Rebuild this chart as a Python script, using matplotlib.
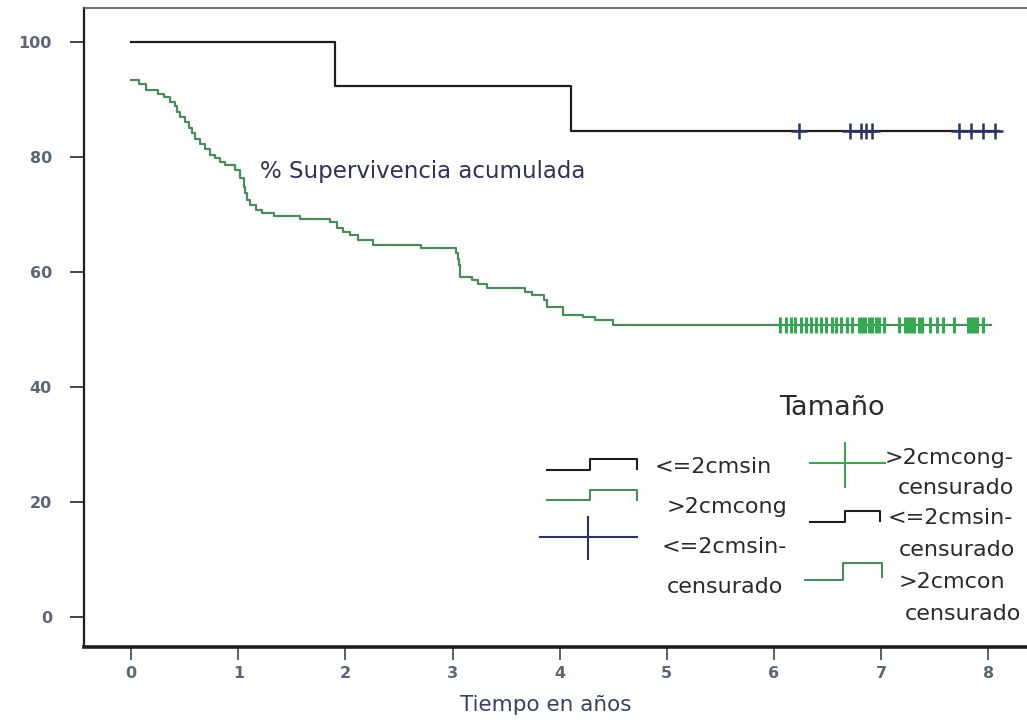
import matplotlib
matplotlib.use('Agg')
import matplotlib.pyplot as plt
from matplotlib.lines import Line2D

# Kaplan-Meier: <=2cm sin ganglios
small_times = [1.90, 4.11]
small_surv = [100.0, 92.3, 84.6]
small_end = 8.10
small_cens = [6.23, 6.71, 6.81, 6.86, 6.92, 7.73, 7.84, 7.95, 8.06]

# Kaplan-Meier: >2cm con ganglios
large_times = [0.07, 0.14, 0.25, 0.31, 0.36, 0.41, 0.43, 0.46, 0.50, 0.54,
               0.57, 0.60, 0.64, 0.69, 0.74, 0.78, 0.83, 0.88, 0.97, 1.02,
               1.05, 1.06, 1.08, 1.11, 1.17, 1.22, 1.33, 1.58, 1.86, 1.92,
               1.98, 2.04, 2.12, 2.26, 2.71, 3.03, 3.05, 3.06, 3.07, 3.18,
               3.24, 3.32, 3.68, 3.74, 3.85, 3.88, 4.03, 4.22, 4.33, 4.50]
large_surv = [93.3, 92.6, 91.6, 91.0, 90.4, 89.6, 88.8, 87.9, 86.9, 86.0, 85.0,
              84.1, 83.2, 82.2, 81.3, 80.4, 79.9, 79.2, 78.6, 77.7, 76.3,
              74.8, 73.7, 72.5, 71.7, 70.8, 70.3, 69.7, 69.3, 68.7, 67.6,
              67.0, 66.4, 65.6, 64.7, 64.1, 63.3, 62.3, 61.2, 59.2, 58.6,
              58.0, 57.2, 56.6, 56.0, 55.1, 54.0, 52.5, 52.2, 51.6, 50.7]
large_end = 8.03
large_cens = [6.06, 6.11, 6.16, 6.20, 6.25, 6.30, 6.35, 6.39, 6.44, 6.49,
              6.54, 6.58, 6.63, 6.68, 6.73, 6.79, 6.82, 6.85, 6.89, 6.92,
              6.95, 6.98, 7.03, 7.17, 7.22, 7.25, 7.28, 7.31, 7.35, 7.38,
              7.46, 7.52, 7.58, 7.68, 7.81, 7.84, 7.87, 7.90, 7.95]

x_ticks = [0, 1, 2, 3, 4, 5, 6, 7, 8]
y_ticks = [0, 20, 40, 60, 80, 100]

BLACK = '#1e1e1e'
GREEN = '#4a8c5c'
GREEN_MK = '#35a852'
NAVY = '#2c3263'
TICK_C = '#5c6677'

narrow = ['Liberation Sans Narrow', 'DejaVu Sans']
sans = ['DejaVu Sans']

W, H = 1027, 720
fig = plt.figure(figsize=(W / 100, H / 100), dpi=100)
ax = fig.add_axes([84 / W, 1 - 647 / H, 962 / W, 639 / H])


def km(times, surv, end):
    xs = [0] + list(times) + [end]
    ys = list(surv) + [surv[-1]]
    return xs, ys


xs, ys = km(small_times, small_surv, small_end)
ax.step(xs, ys, where='post', color=BLACK, lw=1.6)
ax.plot(small_cens, [small_surv[-1]] * len(small_cens), ls='none',
        marker='+', ms=11, mew=1.8, color=NAVY)

xs, ys = km(large_times, large_surv, large_end)
ax.step(xs, ys, where='post', color=GREEN, lw=1.6)
ax.plot(large_cens, [large_surv[-1]] * len(large_cens), ls='none',
        marker='|', ms=11, mew=2.2, color=GREEN_MK)

ax.set_xlim(-0.44, 8.54)
ax.set_ylim(-5.2, 105.9)
ax.set_xticks(x_ticks)
ax.set_yticks(y_ticks)
ax.set_xticklabels([str(v) for v in x_ticks], family=narrow,
                   fontweight='bold', fontsize=11.5, color=TICK_C)
ax.set_yticklabels([str(v) for v in y_ticks], family=narrow,
                   fontweight='bold', fontsize=11.5, color=TICK_C)
ax.tick_params(axis='x', direction='out', length=9, width=1.2,
               color='#444444', pad=5)
ax.tick_params(axis='y', direction='out', length=10, width=1.4,
               color='#444444', pad=13)

ax.spines['left'].set_linewidth(1.6)
ax.spines['left'].set_color(BLACK)
ax.spines['bottom'].set_linewidth(2.6)
ax.spines['bottom'].set_color(BLACK)
ax.spines['top'].set_linewidth(1.2)
ax.spines['top'].set_color('#555555')
ax.spines['right'].set_visible(False)

ax.set_xlabel('Tiempo en años', family=sans, fontsize=15.5,
              color='#3a4262')
ax.xaxis.set_label_coords((546 - 84) / 962, -(705 - 647) / 639)
ax.xaxis.label.set_va('center')

ax.text(1.20, 77.4, '% Supervivencia acumulada', family=sans,
        fontsize=16.5, color='#2e3158', va='center', ha='left')


# legend, drawn by hand in pixel positions
def fx(x):
    return x / W


def fy(y):
    return 1 - y / H


def step_sym(x0, xm, x1, ylo, yhi, yend, color):
    fig.add_artist(Line2D([fx(x0), fx(xm), fx(xm), fx(x1), fx(x1)],
                          [fy(ylo), fy(ylo), fy(yhi), fy(yhi), fy(yend)],
                          color=color, lw=1.5))


def cross_sym(x0, x1, y, xc, y0, y1, color):
    fig.add_artist(Line2D([fx(x0), fx(x1)], [fy(y), fy(y)], color=color, lw=1.5))
    fig.add_artist(Line2D([fx(xc), fx(xc)], [fy(y0), fy(y1)], color=color, lw=1.5))


def label(x, y, s):
    fig.text(fx(x), fy(y), s, family=sans, fontsize=16, color='#2a2a2a',
             ha='left', va='center')


fig.text(fx(832), fy(408), 'Tamaño', family=sans, fontsize=19.5,
         color='#2a2a2a', ha='center', va='center')

step_sym(547, 590, 637, 470, 459, 469, BLACK)
label(655, 467, '<=2cmsin')
step_sym(547, 590, 637, 500, 490, 500, GREEN)
label(667, 507, '>2cmcong')
cross_sym(540, 637, 537, 588, 517, 559, NAVY)
label(662, 547, '<=2cmsin-')
label(667, 587, 'censurado')

cross_sym(810, 885, 463, 845, 443, 487, GREEN_MK)
label(885, 458, '>2cmcong-')
label(898, 488, 'censurado')
step_sym(810, 845, 880, 522, 511, 521, BLACK)
label(888, 518, '<=2cmsin-')
label(899, 550, 'censurado')
step_sym(805, 843, 882, 580, 563, 577, GREEN)
label(899, 582, '>2cmcon')
label(905, 614, 'censurado')

fig.savefig('out.png', dpi=100)
